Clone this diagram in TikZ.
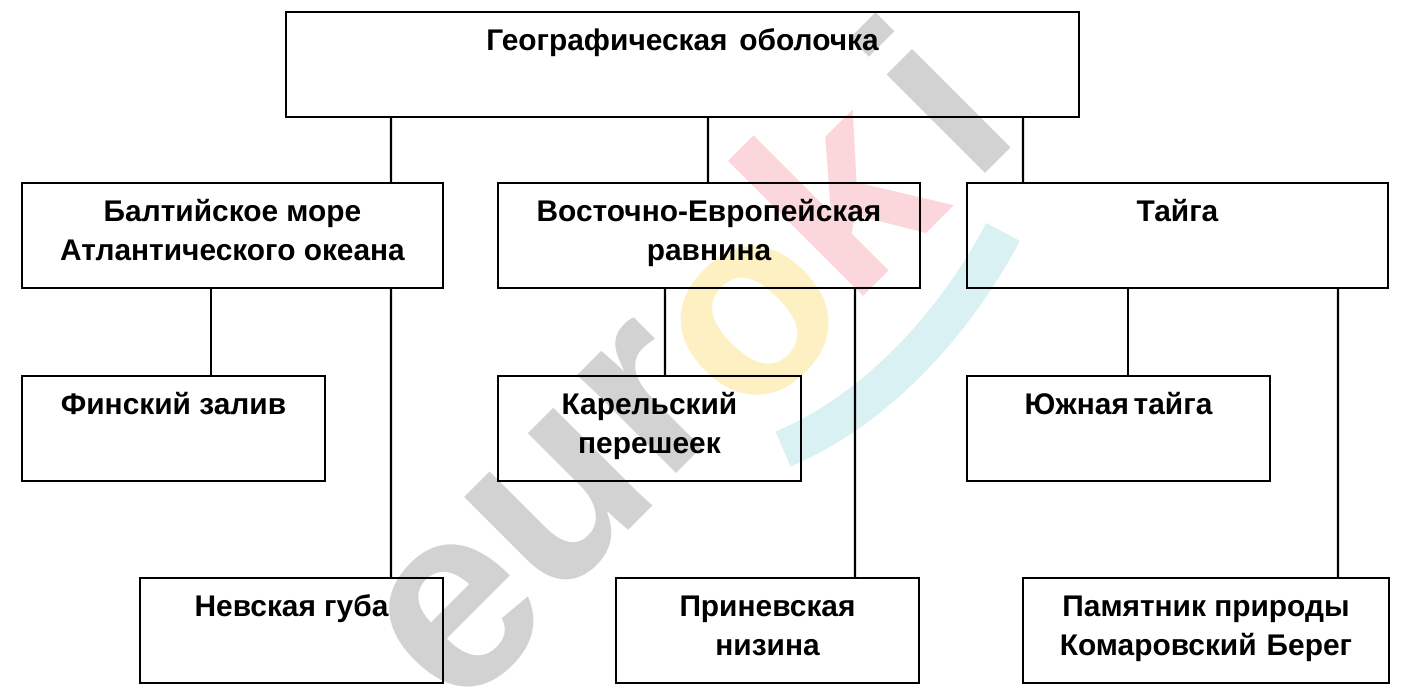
\documentclass[tikz,border=0pt]{standalone}
\usepackage{fontspec}
\setmainfont{Liberation Sans}
\tikzset{
	boxnode/.style={rectangle,draw,line width=1.2pt,align=center,font=\fontsize{17}{22.2}\selectfont\bfseries,inner sep=0pt,minimum height=2.1cm,text height=1.01cm,text depth=0pt},
	wmark/.style={rotate=45,font=\fontsize{150}{150}\selectfont\bfseries,inner sep=0pt},
}
\definecolor{wmgray}{HTML}{D2D2D2}
\definecolor{wmyellow}{HTML}{FDF1C4}
\definecolor{wmpink}{HTML}{FBD6DA}
\definecolor{wmcyan}{HTML}{D9F1F2}
\begin{document}
\begin{tikzpicture}
	\useasboundingbox (0,0) rectangle (28.16,14);
	% watermark
	\begin{scope}
		\node[wmark,text=wmgray] (we) at (9.2,1.68) {e};
		\node[wmark,text=wmgray] (wu) at (11.2,3.95) {u};
		\node[wmark,text=wmgray] (wr) at (13.0,6.0) {r};
		\node[wmark,text=wmyellow] (wo) at (15.1,7.58) {o};
		\node[wmark,text=wmpink] (wk) at (16.7,10.2) {k};
		\node[wmark,text=wmgray] (wi) at (18.62,12.14) {i};
		\draw[wmcyan,line width=0.76cm] (15.66,5.02) .. controls (17.46,5.77) and (19.06,7.46) .. (20.06,9.36);
	\end{scope}
	% boxes
	\begin{scope}\tikzset{every node/.style={boxnode}}
	\node[minimum width=15.86cm] (geo) at (13.65,12.71) {Географическая\hspace{2pt} оболочка\\~};
	\node[minimum width=8.42cm] (balt) at (4.65,9.29) {Балтийское море\\Атлантического океана};
	\node[minimum width=8.44cm] (vost) at (14.18,9.29) {Восточно-Европейская\\равнина};
	\node[minimum width=8.42cm] (taiga) at (23.55,9.29) {Тайга\\~};
	\node[minimum width=6.06cm] (fin) at (3.47,5.43) {Финский залив\\~};
	\node[minimum width=6.06cm] (kar) at (12.99,5.43) {Карельский\\перешеек};
	\node[minimum width=6.06cm] (yuzh) at (22.37,5.43) {Южная\hspace{-2pt} тайга\\~};
	\node[minimum width=6.06cm] (nev) at (5.83,1.39) {Невская губа\\~};
	\node[minimum width=6.06cm] (prin) at (15.35,1.39) {Приневская\\низина};
	\node[minimum width=7.32cm] (pam) at (24.12,1.39) {Памятник природы\\Комаровский\hspace{1pt} Берег};
	\end{scope}
	% connectors
	\begin{scope}[line width=1.2pt]
		\draw ([xshift=-5.83cm]geo.south) -- ([xshift=3.17cm]balt.north);
		\draw ([xshift=0.51cm]geo.south) -- ([xshift=-0.02cm]vost.north);
		\draw ([xshift=6.81cm]geo.south) -- ([xshift=-3.09cm]taiga.north);
		\draw ([xshift=-0.43cm]balt.south) -- ([xshift=0.75cm]fin.north);
		\draw ([xshift=3.17cm]balt.south) -- ([xshift=1.99cm]nev.north);
		\draw ([xshift=-0.88cm]vost.south) -- ([xshift=0.31cm]kar.north);
		\draw ([xshift=2.92cm]vost.south) -- ([xshift=1.75cm]prin.north);
		\draw ([xshift=-0.99cm]taiga.south) -- ([xshift=0.19cm]yuzh.north);
		\draw ([xshift=3.21cm]taiga.south) -- ([xshift=2.64cm]pam.north);
	\end{scope}
\end{tikzpicture}
\end{document}
